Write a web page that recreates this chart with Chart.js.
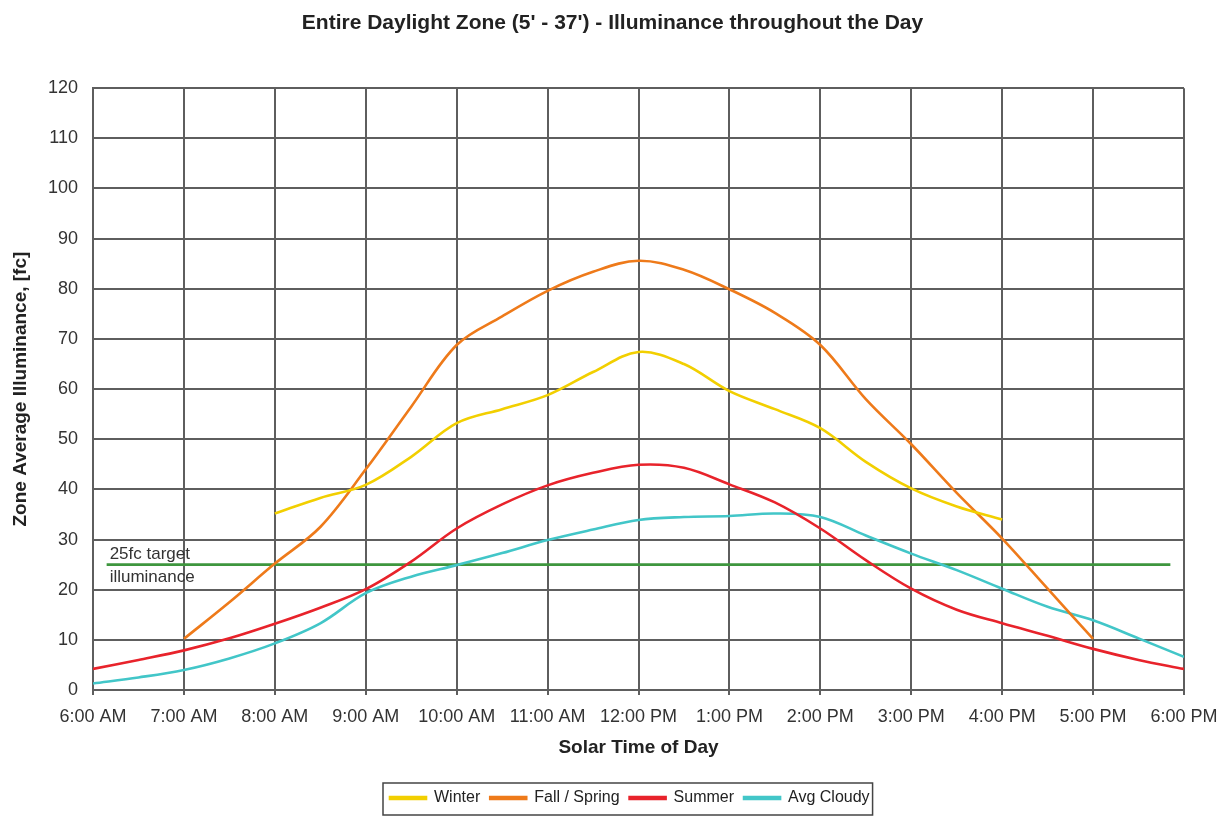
<!DOCTYPE html>
<html><head><meta charset="utf-8">
<script src="https://cdn.jsdelivr.net/npm/chart.js@4/dist/chart.umd.min.js"></script>
<style>html,body{margin:0;padding:0;background:#fff;}</style>
</head><body>
<canvas id="c" width="1225" height="816"></canvas>
<script>
// ---- data ----
const hours = [6, 6.5, 7, 7.5, 8, 8.5, 9, 9.5, 10, 10.5, 11, 11.5, 12, 12.5, 13, 13.5, 14, 14.5, 15, 15.5, 16, 16.5, 17, 17.5, 18];
const tickLabels = ['6:00 AM', '7:00 AM', '8:00 AM', '9:00 AM', '10:00 AM', '11:00 AM', '12:00 PM', '1:00 PM', '2:00 PM', '3:00 PM', '4:00 PM', '5:00 PM', '6:00 PM'];
const winter     = [null, null, null, null, 35.2, 38.3, 40.9, 46.5, 53.2, 56.0, 58.8, 63.4, 67.4, 65.0, 59.6, 56.0, 52.2, 45.5, 40.2, 36.6, 34.0, null, null, null, null];
const fallSpring = [null, null, 10.2, 17.5, 25.2, 32.5, 44.0, 56.5, 68.8, 74.5, 79.6, 83.4, 85.6, 83.8, 79.9, 75.2, 68.8, 58.0, 49.0, 39.3, 30.2, 20.2, 10.2, null, null];
const summer     = [4.2, 6.0, 7.9, 10.3, 13.2, 16.4, 20.1, 25.6, 32.2, 37.0, 40.8, 43.3, 44.9, 44.3, 41.0, 37.4, 32.2, 25.9, 20.2, 16.0, 13.3, 10.8, 8.2, 6.0, 4.2];
const avgCloudy  = [1.3, 2.5, 4.0, 6.3, 9.3, 13.3, 19.3, 22.6, 24.9, 27.3, 29.9, 32.0, 33.9, 34.5, 34.7, 35.2, 34.5, 30.8, 27.2, 23.9, 20.2, 16.6, 13.9, 10.3, 6.6];
const seriesNames = ['Winter', 'Fall / Spring', 'Summer', 'Avg Cloudy'];
const targetValue = 25;
const targetSpan = [6.15, 17.85];
const targetLabel = ['25fc target', 'illuminance'];
const yTicks = { min: 0, max: 120, step: 10 };

const FONT = '"Liberation Sans", Arial, Helvetica, sans-serif';
Chart.defaults.font.family = FONT;
Chart.defaults.color = '#333';

const toPts = arr => hours.map((h, i) => ({ x: h, y: arr[i] }));
const colors = ['#F2CF00', '#EE7A1A', '#E8232B', '#42C6C8'];
const seriesData = [winter, fallSpring, summer, avgCloudy];

const datasets = seriesData.map((arr, i) => ({
  label: seriesNames[i],
  data: toPts(arr),
  borderColor: colors[i],
  backgroundColor: colors[i],
  borderWidth: 2.6,
  pointRadius: 0,
  tension: 0.35,
  spanGaps: false
}));
datasets.push({
  label: 'target',
  data: targetSpan.map(x => ({ x: x, y: targetValue })),
  borderColor: '#3E963E',
  backgroundColor: '#3E963E',
  borderWidth: 2.6,
  pointRadius: 0,
  tension: 0,
  order: 10
});

const GRID = '#5e5e5e';

const extras = {
  id: 'extras',
  afterUpdate(chart) {
    const lg = chart.legend;
    const pad = lg.options.labels.padding;
    const lw = lg.lineWidths[0];
    const start = (lg.left + pad + lg.right - lw) / 2;
    const shift = 390 - start;
    lg.left += shift; lg.right += shift;
  },
  afterDraw(chart) {
    const ctx = chart.ctx;
    const lg = chart.legend;
    const pad = lg.options.labels.padding;
    const lw = lg.lineWidths[0];
    const start = (lg.left + pad + lg.right - lw) / 2;
    const end = start + lw - pad;
    ctx.save();
    ctx.strokeStyle = '#444';
    ctx.lineWidth = 1.5;
    ctx.strokeRect(start - 7, lg.top + 3, end - start + 10, 32);
    const xs = chart.scales.x, ys = chart.scales.y;
    ctx.font = '17px ' + FONT;
    ctx.fillStyle = '#333';
    ctx.textBaseline = 'middle';
    ctx.textAlign = 'left';
    const x0 = xs.getPixelForValue(targetSpan[0]) + 3;
    const y0 = ys.getPixelForValue(targetValue);
    ctx.fillText(targetLabel[0], x0, y0 - 10);
    ctx.fillText(targetLabel[1], x0, y0 + 13);
    ctx.restore();
  }
};

new Chart(document.getElementById('c'), {
  type: 'line',
  data: { datasets },
  options: {
    responsive: false,
    animation: false,
    devicePixelRatio: 1,
    layout: { padding: { left: 0, right: 0, top: 0, bottom: 0 } },
    plugins: {
      title: {
        display: true,
        text: 'Entire Daylight Zone (5\' - 37\') - Illuminance throughout the Day',
        font: { size: 21, weight: 'bold', family: FONT },
        color: '#222',
        padding: { top: 11, bottom: 52 }
      },
      legend: {
        position: 'bottom',
        labels: {
          font: { size: 16, family: FONT },
          color: '#222',
          boxWidth: 36,
          boxHeight: 2,
          padding: 10,
          filter: item => item.text !== 'target'
        }
      },
      tooltip: { enabled: false }
    },
    scales: {
      x: {
        type: 'linear',
        min: 6, max: 18,
        ticks: {
          stepSize: 1,
          autoSkip: false,
          maxRotation: 0,
          padding: 3,
          font: { size: 18, family: FONT, lineHeight: 2.1 },
          color: '#333',
          callback: v => tickLabels[Math.round(v - 6)]
        },
        grid: { color: GRID, lineWidth: 2, drawTicks: true, tickLength: 5, tickColor: GRID },
        border: { color: GRID, width: 2 },
        title: {
          display: true,
          text: 'Solar Time of Day',
          font: { size: 19, weight: 'bold', family: FONT },
          color: '#222',
          padding: { top: 0, bottom: 21 }
        },
        afterFit: s => { s.height = 90; }
      },
      y: {
        min: yTicks.min, max: yTicks.max,
        ticks: {
          stepSize: yTicks.step,
          padding: 15,
          font: { size: 18, family: FONT },
          color: '#333'
        },
        grid: { color: GRID, lineWidth: 2, drawTicks: false },
        border: { color: GRID, width: 2 },
        title: {
          display: true,
          text: 'Zone Average Illuminance, [fc]',
          font: { size: 19, weight: 'bold', family: FONT },
          color: '#222',
          padding: { top: 9, bottom: 0 }
        },
        afterFit: s => { s.width = 93; }
      },
      y2: {
        position: 'right',
        display: true,
        ticks: { display: false },
        grid: { display: false, drawTicks: false },
        border: { display: false },
        afterFit: s => { s.width = 41; }
      }
    }
  },
  plugins: [extras]
});
</script>
</body></html>
